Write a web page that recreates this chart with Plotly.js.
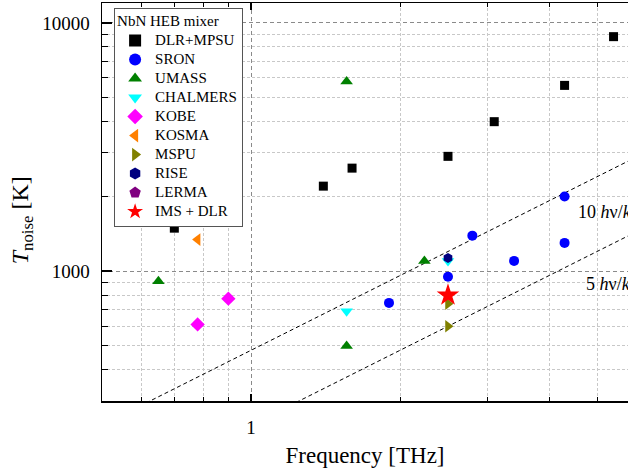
<!DOCTYPE html>
<html>
<head>
<meta charset="utf-8">
<script src="https://cdn.plot.ly/plotly-3.0.1.min.js"></script>
<style>html,body{margin:0;padding:0;background:#fff;}#chart{width:628px;height:473px;}</style>
</head>
<body>
<div id="chart"></div>
<script>
// ---- data (frequency in THz, noise temperature in K) ----
const dlrX = [0.70, 1.40, 1.60, 2.50, 3.10, 4.30, 5.40];
const dlrY = [1490, 2200, 2600, 2900, 4000, 5600, 8800];
const sronX = [1.90, 2.50, 2.80, 3.40, 4.30, 4.30];
const sronY = [745, 950, 1390, 1100, 1300, 2000];
const umassX = [0.65, 1.56, 1.56, 2.24];
const umassY = [910, 5800, 500, 1100];
const chalmersX = [1.56, 2.50];
const chalmersY = [690, 1100];
const kobeX = [0.78, 0.90];
const kobeY = [610, 775];
const kosmaX = [0.78];
const kosmaY = [1340];
const mspuX = [2.50, 2.50];
const mspuY = [740, 600];
const riseX = [2.50];
const riseY = [1130];
// LERMA appears only in the legend (no visible point in the chart)
const lermaX = [null];
const lermaY = [null];
const imsX = [2.50];
const imsY = [800];
// quantum-limit reference lines T = N*h*nu/k (h/k = 48 K/THz)
const refX = [0.5, 6.0];
const ref10Y = [240, 2880];
const ref5Y = [120, 1440];

const xMinor = [0.6, 0.7, 0.8, 0.9, 2, 3, 4, 5];
const xMajor = [1];
const yMinor = [400, 500, 600, 700, 800, 900, 2000, 3000, 4000, 5000, 6000, 7000, 8000, 9000];
const yMajor = [1000, 10000];

const FONT = 'Liberation Serif, Times New Roman, serif';

function lg(t) { return '<span style="font-size:15px">' + t + '</span>'; }

function pts(name, x, y, symbol, color, size) {
  return {type: 'scatter', mode: 'markers', name: lg(name), x: x, y: y,
    marker: {symbol: symbol, color: color, size: size, line: {width: 0}}};
}

const traces = [
  {type: 'scatter', mode: 'lines', x: refX, y: ref10Y, showlegend: false,
   line: {color: '#000', width: 1, dash: '4px,3px'}, hoverinfo: 'skip'},
  {type: 'scatter', mode: 'lines', x: refX, y: ref5Y, showlegend: false,
   line: {color: '#000', width: 1, dash: '4px,3px'}, hoverinfo: 'skip'},
  pts('DLR+MPSU', dlrX, dlrY, 'square', '#000000', 9),
  pts('SRON', sronX, sronY, 'circle', '#0000ff', 10),
  pts('UMASS', umassX, umassY, 'triangle-up', '#008000', 11),
  pts('CHALMERS', chalmersX, chalmersY, 'triangle-down', '#00ffff', 11),
  pts('KOBE', kobeX, kobeY, 'diamond', '#ff00ff', 11),
  pts('KOSMA', kosmaX, kosmaY, 'triangle-left', '#ff8000', 11),
  pts('MSPU', mspuX, mspuY, 'triangle-right', '#808000', 11),
  pts('RISE', riseX, riseY, 'hexagon', '#000080', 10),
  pts('LERMA', lermaX, lermaY, 'pentagon', '#800080', 10),
  pts('IMS + DLR', imsX, imsY, 'star', '#ff0000', 17)
];

const layout = {
  width: 628, height: 473,
  margin: {l: 102, r: 0, t: 3, b: 72, pad: 0},
  paper_bgcolor: '#fff', plot_bgcolor: '#fff',
  font: {family: FONT, color: '#000', size: 18},
  showlegend: true,
  legend: {
    x: 0.023, y: 0.987, xanchor: 'left', yanchor: 'top',
    bgcolor: '#fff', bordercolor: '#555', borderwidth: 1,
    font: {family: FONT, size: 12.3, color: '#000'},
    title: {text: lg('NbN HEB mixer'), font: {family: FONT, size: 13, color: '#000'}},
    tracegroupgap: 0, itemsizing: 'constant'
  },
  xaxis: {
    type: 'log', range: [Math.log10(0.5), 0.7616],
    tickmode: 'array', tickvals: xMajor, ticktext: ['1'],
    ticks: 'inside', ticklen: 7, tickwidth: 1.5, tickcolor: '#000',
    showline: true, linecolor: '#000', linewidth: 1.5, mirror: 'allticks',
    showgrid: true, gridcolor: '#8a8a8a', gridwidth: 1, griddash: '4px,3px',
    zeroline: false, ticklabelstandoff: 9,
    tickfont: {family: FONT, size: 19},
    minor: {tickmode: 'array', tickvals: xMinor, ticks: 'inside', ticklen: 4,
            tickwidth: 1, tickcolor: '#000', showgrid: true, gridcolor: '#c8c8c8',
            gridwidth: 1, griddash: '3px,2px'},
    title: {text: 'Frequency [THz]', font: {family: FONT, size: 23}, standoff: 9}
  },
  yaxis: {
    type: 'log', range: [Math.log10(300), 4.08],
    tickmode: 'array', tickvals: yMajor, ticktext: ['1000', '10000'],
    ticks: 'inside', ticklen: 10, tickwidth: 1.5, tickcolor: '#000',
    showline: true, linecolor: '#000', linewidth: 1.5, mirror: false,
    showgrid: true, gridcolor: '#8a8a8a', gridwidth: 1, griddash: '4px,3px',
    zeroline: false, ticklabelstandoff: 7,
    tickfont: {family: FONT, size: 19},
    minor: {tickmode: 'array', tickvals: yMinor, ticks: 'inside', ticklen: 6,
            tickwidth: 1, tickcolor: '#000', showgrid: true, gridcolor: '#c8c8c8',
            gridwidth: 1, griddash: '3px,2px'}
  },
  annotations: [
    {xref: 'paper', yref: 'paper', x: -0.152, y: 0.454, xanchor: 'center', yanchor: 'middle',
     textangle: -90, text: '<i>T</i><sub>noise</sub> [K]', showarrow: false,
     font: {family: FONT, size: 24}},
    {xref: 'x', yref: 'y', x: 0.656, y: 3.238, xanchor: 'left', yanchor: 'middle',
     text: '10 <i>h</i>ν/<i>k</i>', showarrow: false, font: {family: FONT, size: 18}},
    {xref: 'x', yref: 'y', x: 0.6733, y: 2.949, xanchor: 'left', yanchor: 'middle',
     text: '5 <i>h</i>ν/<i>k</i>', showarrow: false, font: {family: FONT, size: 18}}
  ]
};

Plotly.newPlot('chart', traces, layout, {displayModeBar: false, staticPlot: true});
</script>
</body>
</html>
